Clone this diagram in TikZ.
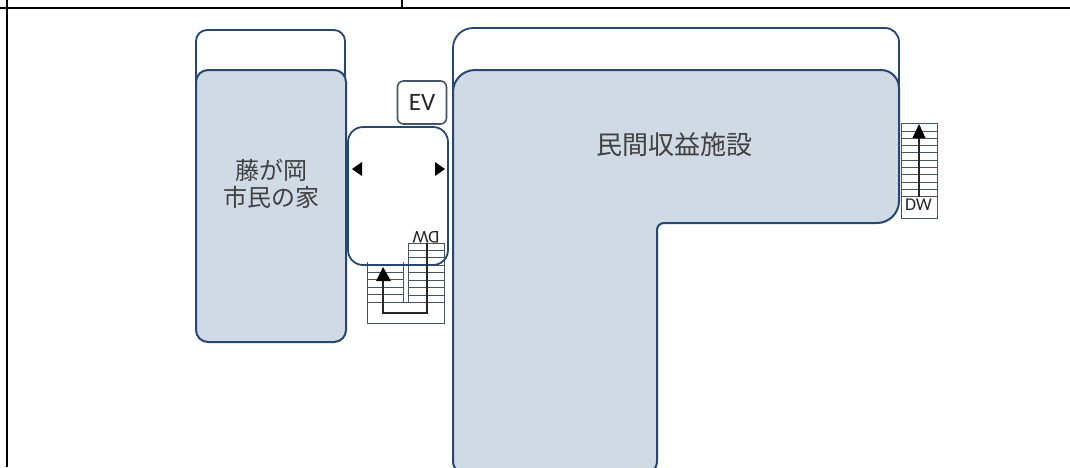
\documentclass[tikz,border=0pt]{standalone}
\usepackage{fontspec}
\newfontfamily\jp{Noto Sans CJK JP}
\setsansfont{Carlito}
\definecolor{fillb}{RGB}{208,218,228}
\definecolor{edgeb}{RGB}{38,70,115}
\definecolor{stairc}{RGB}{70,85,100}
\tikzset{
  room/.style={draw=edgeb,line width=2pt,fill=fillb},
  roof/.style={draw=edgeb,line width=1.8pt,fill=white},
  frameline/.style={draw=black,line width=2pt},
  stairline/.style={draw=stairc,line width=.9pt},
  flow/.style={draw=black!85,line width=1.6pt},
  tip/.style={fill=black,draw=none},
  jplabel/.style={font=\jp\fontsize{24}{27}\selectfont,text=black!75,align=center,inner sep=0pt},
  dwlabel/.style={font=\sffamily\fontsize{18}{20}\selectfont,text=black!85,inner sep=0pt}
}
\begin{document}
\begin{tikzpicture}[x=1pt,y=-1pt]
\useasboundingbox (0,0) rectangle (1070,467);
% frame
\coordinate (fl0) at (7,0); \coordinate (fl1) at (7,467);
\coordinate (ft0) at (0,8); \coordinate (ft1) at (1070,8);
\coordinate (fd0) at (402,0); \coordinate (fd1) at (402,8);
\draw[frameline] (fl0)--(fl1) (ft0)--(ft1) (fd0)--(fd1);
% left building
\draw[roof,rounded corners=11pt] (196,100) -- (196,30) -- (345,30) -- (345,100);
\draw[room,rounded corners=12pt] (196,70) rectangle (346,342);
\node[jplabel] (civic) at (271,183.5) {藤が岡\\市民の家};
% right building roof and body
\draw[roof] (453,110) [rounded corners=20pt] -- (453,28) [rounded corners=14pt] -- (899,28) [sharp corners] -- (899,110);
\draw[room] (453,100) [rounded corners=22pt] -- (453,70) [rounded corners=18pt] -- (899,70) [rounded corners=22pt] -- (899,223) [rounded corners=7pt] -- (657,223) [rounded corners=14pt] -- (657,475) -- (453,475) -- cycle;
\node[jplabel,font=\jp\fontsize{26}{28}\selectfont] (private) at (674,145) {民間収益施設};
% stairs east
\foreach \y in {131,138.3,...,199} {\draw[stairline] (901,\y) -- (937,\y);}
\draw[stairline] (901,123) rectangle (937,218);
\node[dwlabel] (dwr) at (918.5,205) {DW};
\coordinate (er) at (919,197); \coordinate (et) at (919,132);
\draw[flow] (er) -- (et);
\fill[tip] (919,124) -- (912.5,138) -- (925.5,138) -- cycle;
% stairs middle
\foreach \y in {272,279.5,...,303} {\draw[stairline] (367,\y) -- (403,\y);}
\foreach \y in {250,257.5,...,303} {\draw[stairline] (408,\y) -- (444,\y);}
\draw[stairline] (403,302) -- (408,302);
\draw[stairline] (367,262) -- (367,323) -- (444,323) -- (444,243) -- (408,243) -- (408,302) (403,302) -- (403,262);
% hall
\draw[draw=edgeb,line width=1.8pt,rounded corners=15pt] (348,127) rectangle (448,265);
\node[dwlabel,rotate=180] (dwl) at (426,237) {DW};
\coordinate (m0) at (427,243); \coordinate (m1) at (427,313); \coordinate (m2) at (383,313); \coordinate (m3) at (383,278);
\draw[flow] (m0) -- (m1) -- (m2) -- (m3);
\fill[tip] (383,267) -- (376,281) -- (391,281) -- cycle;
\fill[tip] (352,169) -- (362,162) -- (362,176) -- cycle;
\fill[tip] (445,169) -- (435,162) -- (435,176) -- cycle;
% EV
\node[draw=stairc,fill=white,line width=1.6pt,rounded corners=6pt,minimum width=49pt,minimum height=43pt,font=\sffamily\fontsize{25}{27}\selectfont,text=black!85,inner sep=0pt] (ev) at (422,102.5) {EV};
\end{tikzpicture}
\end{document}
